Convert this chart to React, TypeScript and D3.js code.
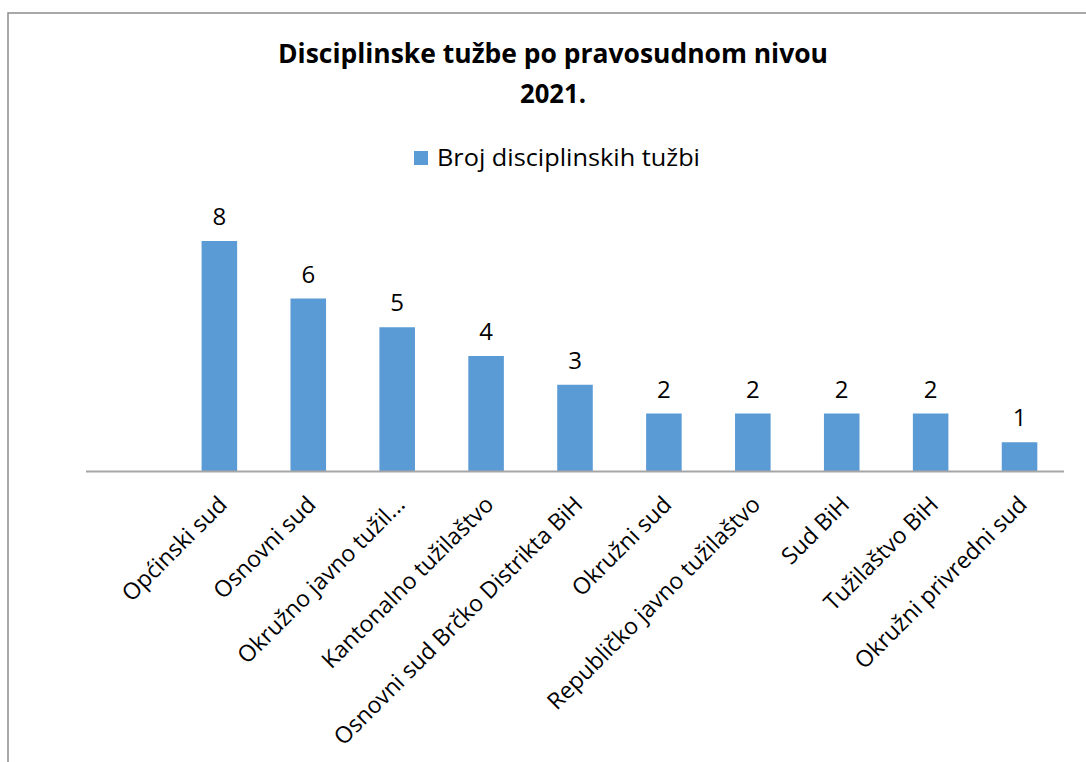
import React from "react";
import * as d3 from "d3";

const categories: string[] = [
  "",
  "Općinski sud",
  "Osnovni sud",
  "Okružno javno tužil...",
  "Kantonalno tužilaštvo",
  "Osnovni sud Brčko Distrikta BiH",
  "Okružni sud",
  "Republičko javno tužilaštvo",
  "Sud BiH",
  "Tužilaštvo BiH",
  "Okružni privredni sud",
];
const values: (number | null)[] = [null, 8, 6, 5, 4, 3, 2, 2, 2, 2, 1];
const titleLines: string[] = ["Disciplinske tužbe po pravosudnom nivou", "2021."];
const seriesName = "Broj disciplinskih tužbi";

const W = 1086;
const H = 762;
const BAR = "#5b9bd5";
const FONT = "'Open Sans', 'DejaVu Sans', sans-serif";

export default function App() {
  const x = d3.scaleBand<string>().domain(categories.map((c, i) => String(i))).range([86, 1064]).paddingInner(0.6).paddingOuter(0.3);
  const y = d3.scaleLinear().domain([0, 8]).range([471, 241]);
  const y0 = y(0);

  return (
    <svg width={W} height={H} style={{ position: "absolute", left: 0, top: 0, background: "#fff" }}>
      <rect x={8} y={13} width={1100} height={800} fill="#fff" stroke="#8c8c8c" strokeWidth={1.5} />
      {titleLines.map((t, i) => (
        <text key={i} x={553} y={63 + i * 40} textAnchor="middle" fontFamily={FONT} fontWeight={700} fontSize={26} fill="#000" textLength={i === 0 ? 550 : 66} lengthAdjust="spacingAndGlyphs">
          {t}
        </text>
      ))}
      <rect x={414} y={151} width={14} height={14} fill={BAR} />
      <text x={437} y={166} fontFamily={FONT} fontSize={23} fill="#000" textLength={263} lengthAdjust="spacingAndGlyphs">{seriesName}</text>
      {categories.map((c, i) => {
        const v = values[i];
        if (v == null) return null;
        const bx = x(String(i))!;
        return (
          <g key={i}>
            <rect x={bx} y={y(v)} width={x.bandwidth()} height={y0 - y(v)} fill={BAR} />
            <text x={bx + x.bandwidth() / 2} y={y(v) - 16} textAnchor="middle" fontFamily={FONT} fontSize={24} fill="#000">{v}</text>
          </g>
        );
      })}
      <line x1={86} x2={1064} y1={y0 + 0.5} y2={y0 + 0.5} stroke="#a6a6a6" strokeWidth={2} />
      {categories.map((c, i) => {
        if (!c) return null;
        const cx = x(String(i))! + x.bandwidth() / 2 + 9;
        return (
          <text key={"l" + i} transform={`translate(${cx},${y0 + 35}) rotate(-45)`} textAnchor="end" fontFamily={FONT} fontSize={23} fill="#000">
            {c}
          </text>
        );
      })}
    </svg>
  );
}
